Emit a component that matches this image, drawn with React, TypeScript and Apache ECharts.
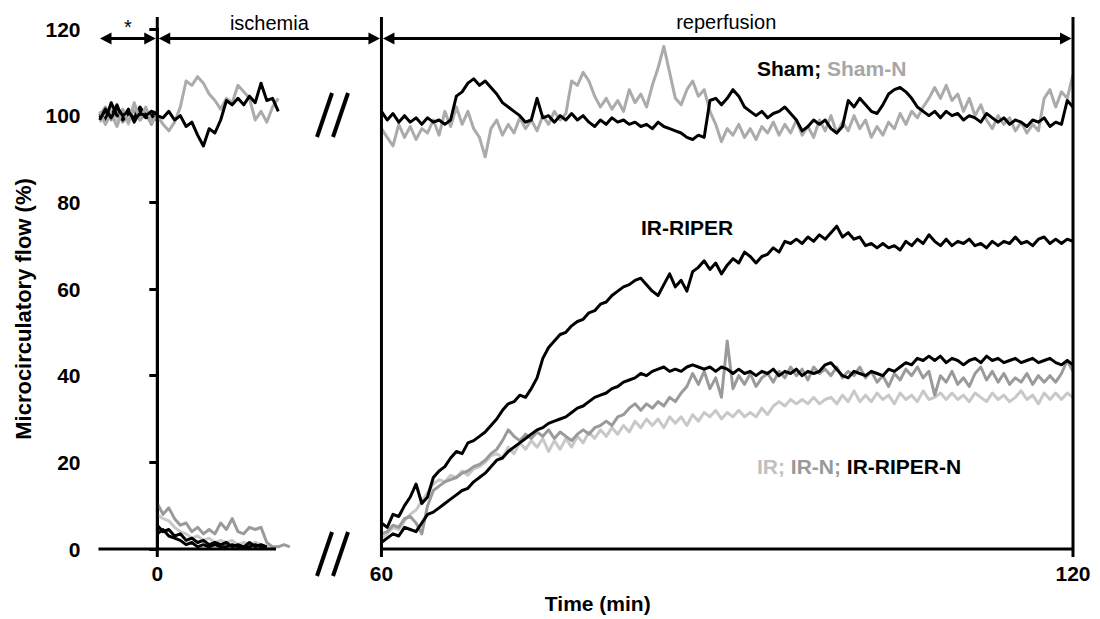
import React, { useEffect, useRef } from "react";
import * as echarts from "echarts";

// ---------- time layout ----------
const STEP = 0.5; // sampling step of the traces (min)
const PRE_START = -5;
const ISCH_START = 0;
const REP_START = 60;
const REP_END = 120;
const BREAK_SHIFT = 40.55; // minutes hidden by the axis break
const X_MIN = -5.1;
const xTickLabels = [0, 60, 120];

// ---------- pre-ischemia baseline (-5 .. 0 min) ----------
const shamPre = [99, 101.5, 99.5, 102, 100, 101, 99, 100.5, 100, 101, 100.5];
const shamNPre = [101, 98, 100.5, 97.5, 101.5, 98.5, 103, 99, 102, 98.5, 100];
const irPre = [98.5, 100, 101.5, 99, 100.5, 98, 102, 99.5, 101, 99, 100];
const irNPre = [100, 102, 99, 101.5, 98.5, 100.5, 101, 99, 100.5, 98, 101];
const irRiperPre = [100.5, 99, 103, 100, 99.5, 101.5, 98.5, 101, 99.5, 100, 99];
const irRiperNPre = [99.5, 101, 100, 102.5, 99, 100.5, 99.5, 102, 100, 101, 100];

// ---------- ischemia (from 0 min) ----------
const shamIsch = [100, 99.5, 101, 99, 100, 97.5, 98.5, 95.5, 93, 97, 96, 99, 103.5, 102.5, 104, 102.5, 104.5, 103, 107.5, 103.5, 104, 101];
const shamNIsch = [100, 98, 96.5, 98.5, 102, 108, 107, 109, 107.5, 105, 103.5, 101.5, 104, 103, 107, 105.5, 104, 99, 101, 98.5, 102, 104];
const irIsch = [8, 7, 6.5, 5, 4, 3.5, 2.5, 3, 2, 2.5, 1.5, 2, 1.5, 2, 1, 1.5, 1, 1.5, 1, 0.5, 0.5];
const irNIsch = [10.5, 8, 9.5, 7, 5.5, 6, 4, 5, 3.5, 4.5, 3.5, 6, 4.5, 7, 4, 3.5, 5, 4.5, 5, 1.5, 0.5, 0.5, 1, 0.5];
const irRiperIsch = [5.5, 4, 4.5, 3, 3.5, 2, 2.5, 1.5, 2, 1, 1.5, 1, 1.5, 0.5, 1, 0.5, 1.5, 0.5, 1, 0.5];
const irRiperNIsch = [3.5, 4.5, 3, 2.5, 2, 1, 1.5, 0.5, 1, 0.5, 1, 0.5, 0.5, 1, 0.5, 0.5, 0.5, 1, 0.5, 0.5];

// ---------- reperfusion (60 .. 120 min) ----------
const irRiperRep = [
  6, 5, 8, 7.5, 10, 12, 15, 10.5, 12, 16.5,
  18, 19, 21, 22.5, 22, 24.5, 25, 26, 27, 28.5,
  30, 32, 33.5, 34, 35.5, 35, 37, 39.5, 44, 46.5,
  48, 49.5, 50, 51.5, 52.5, 53, 54.5, 55, 56.5, 57,
  58.5, 59.5, 60.5, 61, 62, 62.5, 61, 59.5, 58.5, 61,
  63.5, 60.5, 62, 59.5, 64, 65, 66.5, 64.5, 66, 63.5,
  65.5, 67, 66, 68.5, 67.5, 66, 67.5, 68, 69.5, 68.5,
  71, 70.5, 71.5, 70.5, 72, 71, 72.5, 71.5, 73, 74.5,
  72, 73, 71.5, 72, 70, 70.5, 69.5, 70.5, 69.5, 70,
  69, 71, 70, 71.5, 70.5, 72.5, 71, 70, 71.5, 70,
  71, 70.5, 71.5, 70, 70.5, 69.5, 71, 70, 71, 70.5,
  72, 70.5, 71, 70, 71.5, 72, 70.5, 71.5, 70.5, 71.5,
  71,
];
const irRiperNRep = [
  1.5, 2.5, 3.5, 3, 5, 4.5, 4, 6, 8, 8.5,
  9.5, 10.5, 11.5, 12.5, 13.5, 14, 15.5, 16.5, 17.5, 19,
  20.5, 21, 22.5, 23.5, 24.5, 25.5, 26.5, 27.5, 28, 29,
  29.5, 30, 30.5, 31.5, 32.5, 33, 34, 35, 35.5, 36,
  37, 37.5, 38.5, 39, 39.5, 40.5, 40, 41, 41.5, 42,
  41, 41.5, 41, 42, 42.5, 42, 41.5, 42, 41, 42,
  41.5, 40.5, 41.5, 40.5, 41, 40, 41, 40.5, 41.5, 40,
  41, 40.5, 41.5, 40, 41, 40.5, 41, 42.5, 43, 41.5,
  40, 39.5, 41, 40.5, 40, 41, 40.5, 40, 41.5, 41,
  42, 43, 42.5, 44, 43.5, 44.5, 43.5, 44.5, 43, 44,
  43.5, 42.5, 43.5, 44, 43, 44.5, 43.5, 44, 43, 43.5,
  44, 43, 43.5, 44, 43, 43.5, 44, 43, 42.5, 43.5,
  42.5,
];
const irNRep = [
  3.5, 4, 5.5, 5, 7, 7.5, 6, 3.5, 10, 13.5,
  14.5, 15.5, 16, 16.5, 17.5, 18, 19, 19.5, 20.5, 22,
  23, 25, 27.5, 26, 25, 26.5, 25.5, 27, 26, 27.5,
  25.5, 27, 26, 25, 26.5, 27.5, 26.5, 28, 28.5, 29.5,
  28.5, 30.5, 31, 32.5, 33.5, 32, 33.5, 32.5, 34, 33,
  35, 34, 36, 37.5, 40.5, 38, 41, 37, 39.5, 35,
  48, 37, 40, 38, 40.5, 37.5, 39.5, 40.5, 38.5, 41,
  39.5, 42, 40, 41.5, 39, 42, 40.5, 41.5, 40, 42,
  39.5, 41, 40, 42, 39.5, 41, 38.5, 40, 37.5, 40.5,
  39, 41.5, 40, 42, 39.5, 41, 35.5, 40, 38.5, 41,
  38, 39.5, 37.5, 40.5, 42, 39, 41, 38.5, 40.5, 38,
  39.5, 38.5, 40.5, 38, 40, 38.5, 40, 38.5, 40.5, 43.5,
  41,
];
const irRep = [
  2.5, 3.5, 5, 4.5, 6.5, 8, 9, 11, 13, 15,
  16, 15.5, 17, 16.5, 18, 17, 18.5, 19, 20, 21.5,
  22, 21, 23.5, 22, 24.5, 23, 25, 23.5, 25.5, 22.5,
  25, 23, 25.5, 23.5, 26, 24.5, 27, 25.5, 27.5, 26,
  28, 26.5, 28.5, 27, 29.5, 28, 30, 28.5, 30, 28,
  30.5, 29, 30.5, 28.5, 31, 29.5, 31.5, 30.5, 32, 30,
  31.5, 30.5, 32, 30.5, 31.5, 30.5, 32.5, 31, 33, 34,
  33, 34.5, 33.5, 34.5, 33.5, 35, 33.5, 34.5, 35, 33.5,
  35.5, 34, 36.5, 34, 35.5, 34, 36, 34.5, 35.5, 33.5,
  36, 34.5, 35.5, 34, 36.5, 34.5, 35, 36, 34.5, 36,
  34.5, 35.5, 34, 36, 35, 34, 36, 34.5, 35.5, 34,
  35, 36.5, 34.5, 35.5, 33.5, 36, 34.5, 36, 34.5, 36,
  35,
];
const shamRep = [
  101, 99, 100.5, 98.5, 100, 98.5, 99.5, 98, 99.5, 98.5,
  99, 98, 99, 104.5, 105.5, 107.5, 108.5, 107, 108, 106.5,
  105, 103, 102, 101, 100, 98.5, 99, 104, 99.5, 100,
  98.5, 100, 99, 100.5, 99, 100, 98.5, 97.5, 99, 98,
  99.5, 98.5, 99, 98, 98.5, 97.5, 98, 97, 98.5, 97.5,
  97, 96.5, 96, 95, 94.5, 95.5, 95, 103.5, 104, 102.5,
  104, 106, 104.5, 102, 101, 100, 101, 99.5, 100.5, 101,
  102, 100.5, 99, 96.5, 97.5, 99, 98, 99, 97, 96,
  97.5, 103.5, 102, 104, 102.5, 101, 100.5, 102.5, 105, 106,
  106.5, 105.5, 104, 102, 101, 100, 101, 99.5, 101, 100,
  100.5, 99, 100, 99.5, 98.5, 100.5, 99.5, 98.5, 99.5, 98,
  99, 98.5, 97.5, 99, 98.5, 99.5, 97.5, 98.5, 98, 103.5,
  102,
];
const shamNRep = [
  97, 95, 93, 98, 95, 97.5, 94.5, 97, 96, 99,
  95.5, 101, 97.5, 102, 98, 101, 97, 95, 90.5, 97,
  99, 95.5, 98, 96, 99.5, 97, 99, 96.5, 100, 98,
  101, 99, 100.5, 108, 107, 110, 108, 104.5, 102, 104,
  101.5, 103.5, 101, 106, 103, 105, 102, 107, 111, 116,
  110, 104, 102.5, 106, 108, 104.5, 106, 101, 98, 94,
  97, 95.5, 98, 95, 97, 94.5, 97.5, 96, 98.5, 95.5,
  98, 96, 99, 95.5, 97.5, 95, 99, 96.5, 100, 96,
  98.5, 96.5, 100, 97, 99, 95, 97.5, 95.5, 98.5, 97,
  100.5, 98, 101, 99.5, 102, 104, 106.5, 104, 107, 103.5,
  105, 101, 104, 100, 102.5, 99, 97, 100, 98, 99.5,
  96.5, 98.5, 96, 98, 96.5, 104, 106, 102, 105.5, 104,
  109.5,
];

// ---------- groups (drawing order: first at the back) ----------
const groupNames = ["IR", "IR-N", "IR-RIPER-N", "IR-RIPER", "Sham-N", "Sham"];
const groupColors = ["#c8c8c8", "#9a9a9a", "#000000", "#000000", "#ababab", "#000000"];
const groupPre = [irPre, irNPre, irRiperNPre, irRiperPre, shamNPre, shamPre];
const groupIsch = [irIsch, irNIsch, irRiperNIsch, irRiperIsch, shamNIsch, shamIsch];
const groupRep = [irRep, irNRep, irRiperNRep, irRiperRep, shamNRep, shamRep];

const FONT = "'Liberation Sans', Arial, Helvetica, sans-serif";

const toV = (t: number) => (t >= REP_START ? t - BREAK_SHIFT : t);
const fromV = (v: number) => (v > 12 ? v + BREAK_SHIFT : v);

const seg = (start: number, values: number[]) =>
  values.map((v, i) => [toV(start + i * STEP), v]);

export default function App() {
  const ref = useRef<HTMLDivElement>(null);

  useEffect(() => {
    if (!ref.current) return;
    const chart = echarts.init(ref.current, null, { renderer: "svg" });

    const series: any[] = [];
    groupNames.forEach((name, gi) => {
      const parts = [
        seg(PRE_START, groupPre[gi]),
        seg(ISCH_START, groupIsch[gi]),
        seg(REP_START, groupRep[gi]),
      ];
      parts.forEach((data) => {
        series.push({
          name,
          type: "line",
          data,
          showSymbol: false,
          symbol: "none",
          silent: true,
          lineStyle: { color: groupColors[gi], width: 3, join: "round" },
          z: 2 + gi,
        });
      });
    });

    chart.setOption({
      animation: false,
      backgroundColor: "#ffffff",
      grid: { left: 98.5, right: 27, top: 29, bottom: 70, outerBoundsMode: "none", containLabel: false },
      xAxis: {
        type: "value",
        min: X_MIN,
        max: toV(REP_END),
        axisLine: { show: false },
        axisTick: { show: false },
        splitLine: { show: false },
        axisLabel: {
          customValues: xTickLabels.map(toV),
          formatter: (v: number) => String(Math.round(fromV(v))),
          fontSize: 21,
          fontWeight: "bold",
          fontFamily: FONT,
          color: "#000",
          margin: 14,
        },
        name: "Time (min)",
        nameLocation: "middle",
        nameGap: 44,
        nameTextStyle: { fontSize: 21, fontWeight: "bold", fontFamily: FONT, color: "#000", padding: [0, 0, 0, 24] },
      },
      yAxis: {
        type: "value",
        min: 0,
        max: 120,
        interval: 20,
        axisLine: { show: true, lineStyle: { color: "#000", width: 3 } },
        axisTick: { show: true, length: 8, lineStyle: { color: "#000", width: 3 } },
        splitLine: { show: false },
        axisLabel: { fontSize: 21, fontWeight: "bold", fontFamily: FONT, color: "#000", margin: 18 },
        name: "Microcirculatory flow (%)",
        nameLocation: "middle",
        nameGap: 58,
        nameRotate: 90,
        nameTextStyle: { fontSize: 22, fontWeight: "bold", fontFamily: FONT, color: "#000", padding: [0, 40, 0, 0] },
      },
      series,
    });

    const px = (t: number) => chart.convertToPixel({ xAxisIndex: 0 }, toV(t)) as number;
    const py = (v: number) => chart.convertToPixel({ yAxisIndex: 0 }, v) as number;

    const blk = { stroke: "#000", lineWidth: 3 };
    const xLeft = chart.convertToPixel({ xAxisIndex: 0 }, X_MIN) as number;
    const y0 = py(0);
    const yArrow = 38.5;

    const arrow = (a: number, b: number) => [
      { type: "line", shape: { x1: a + 8, y1: yArrow, x2: b - 8, y2: yArrow }, style: blk },
      { type: "polygon", shape: { points: [[a + 1.5, yArrow], [a + 13, yArrow - 6], [a + 13, yArrow + 6]] }, style: { fill: "#000" } },
      { type: "polygon", shape: { points: [[b - 1.5, yArrow], [b - 13, yArrow - 6], [b - 13, yArrow + 6]] }, style: { fill: "#000" } },
    ];

    const txt = (x: number, y: number, text: string, size: number, weight: string, align = "center", rich?: any) => ({
      type: "text",
      x,
      y,
      style: {
        text,
        fontSize: size,
        fontWeight: weight,
        fontFamily: FONT,
        fill: "#000",
        textAlign: align,
        textVerticalAlign: "middle",
        align,
        verticalAlign: "middle",
        rich,
      },
    });

    const richStyle = (color: string) => ({ fill: color, fontSize: 21, fontWeight: "bold", fontFamily: FONT });

    const breakMarks = (cy: number) => [
      { type: "line", shape: { x1: 317, y1: cy + 22, x2: 332, y2: cy - 22 }, style: { stroke: "#000", lineWidth: 4 } },
      { type: "line", shape: { x1: 333, y1: cy + 22, x2: 348, y2: cy - 22 }, style: { stroke: "#000", lineWidth: 4 } },
    ];

    const elements: any[] = [
      // x axis segments
      { type: "line", shape: { x1: xLeft, y1: y0, x2: px(10.3), y2: y0 }, style: blk },
      { type: "line", shape: { x1: px(REP_START), y1: y0, x2: px(REP_END), y2: y0 }, style: blk },
      // phase separators
      ...[ISCH_START, REP_START, REP_END].map((t) => ({
        type: "line",
        shape: { x1: px(t), y1: 17, x2: px(t), y2: y0 + 8 },
        style: blk,
      })),
      // phase arrows
      ...arrow(xLeft, px(ISCH_START)),
      ...arrow(px(ISCH_START), px(REP_START)),
      ...arrow(px(REP_START), px(REP_END)),
      txt((xLeft + px(ISCH_START)) / 2, 27, "*", 20, "normal"),
      txt((px(ISCH_START) + px(REP_START)) / 2, 23, "ischemia", 20, "normal"),
      txt((px(REP_START) + px(REP_END)) / 2 - 1, 22, "reperfusion", 20, "normal"),
      // axis break marks
      ...breakMarks(115),
      ...breakMarks(554),
      // series labels
      txt(757, 68, "{a|Sham; }{b|Sham-N}", 21, "bold", "left", { a: richStyle("#000"), b: richStyle("#a6a6a6") }),
      txt(641, 227, "IR-RIPER", 21, "bold", "left"),
      txt(757, 466, "{a|IR; }{b|IR-N; }{c|IR-RIPER-N}", 21, "bold", "left", {
        a: richStyle("#c0c0c0"),
        b: richStyle("#999999"),
        c: richStyle("#000"),
      }),
    ];

    chart.setOption({ graphic: { elements: elements.map((e) => ({ ...e, silent: true, z: 100 })) } });

    return () => chart.dispose();
  }, []);

  return (
    <div
      ref={ref}
      style={{ position: "absolute", left: 0, top: 0, width: 1100, height: 619, background: "#fff" }}
    />
  );
}
